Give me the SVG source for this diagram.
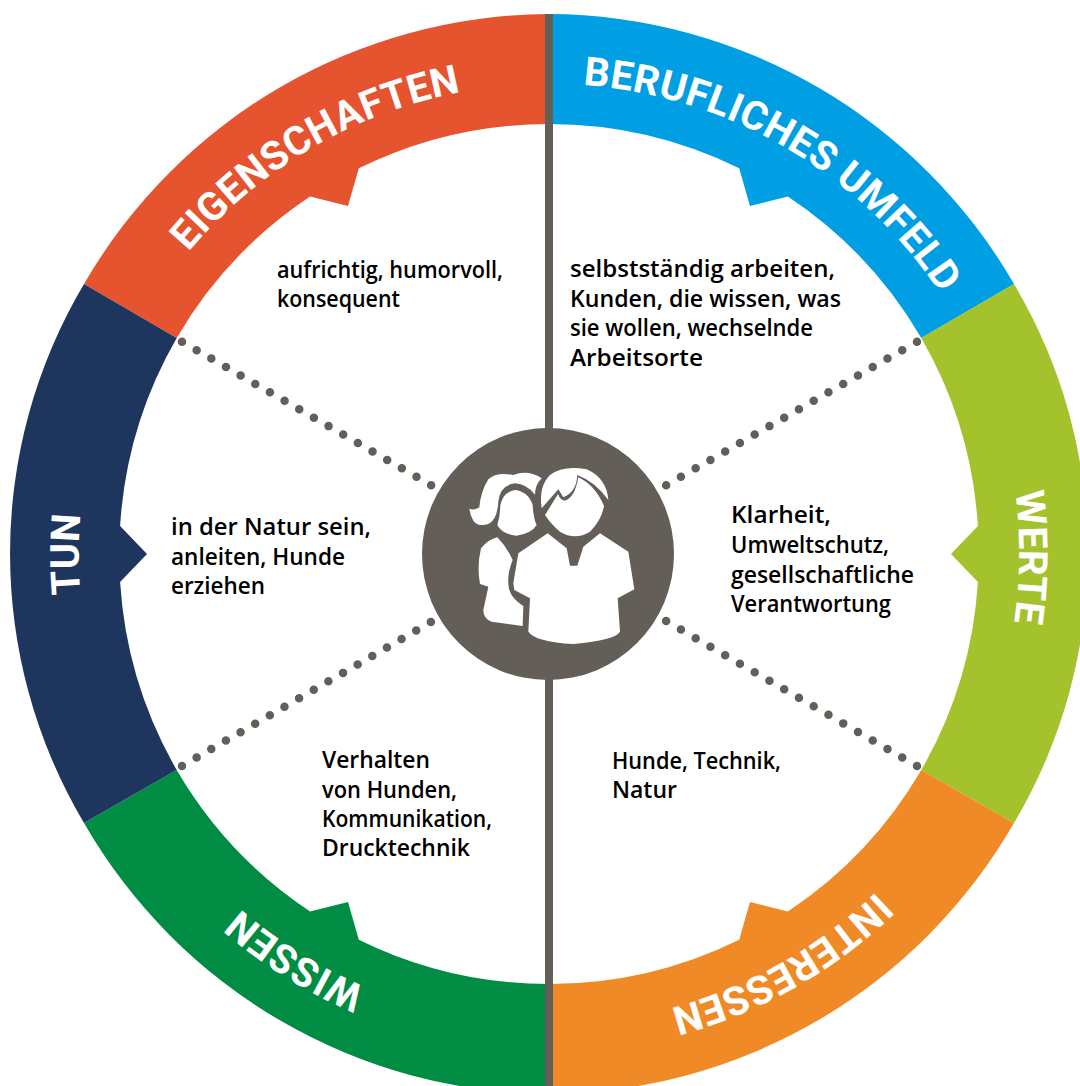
<svg xmlns="http://www.w3.org/2000/svg" width="1080" height="1086" viewBox="0 0 1080 1086">
<style>
.label{font-family:Roboto,"Liberation Sans",sans-serif;font-weight:700;font-size:40px;fill:#fff;letter-spacing:.5px}
.note{font-family:"Open Sans","Liberation Sans",sans-serif;font-weight:600;font-size:23px;fill:#000}
.dots{fill:none;stroke:#635f58;stroke-width:8.5;stroke-linecap:round;stroke-dasharray:0 1}
.bar{fill:none;stroke:#635f58;stroke-width:8}
.ico{fill:#fff}
</style>
<defs><path id="labelArc" d="M86.1,472.4 A470,470 0 0 1 1011.9,472.4"/></defs>
<rect width="1080" height="1086" fill="#fff"/>
<g id="eigenschaften">
<path fill="#e5532f" d="M84,284 A540,540 0 0 1 549,14 L549,124 A430,430 0 0 0 358.8,168.3 L348,205.9 L310.1,196.5 A430,430 0 0 0 176.7,338 Z"/>
<text class="label" transform="rotate(-30.4 549 554)"><textPath href="#labelArc" startOffset="50%" text-anchor="middle">EIGENSCHAFTEN</textPath></text>
<text class="note" x="277" y="278" textLength="226" lengthAdjust="spacingAndGlyphs">aufrichtig, humorvoll,</text>
<text class="note" x="277" y="307" textLength="123" lengthAdjust="spacingAndGlyphs">konsequent</text>
</g>
<g id="berufliches-umfeld">
<path fill="#009fe3" d="M549,14 A540,540 0 0 1 1014,284 L921.3,338 A430,430 0 0 0 787.9,196.5 L750,205.9 L739.2,168.3 A430,430 0 0 0 549,124 Z"/>
<text class="label" transform="rotate(30.3 549 554)"><textPath href="#labelArc" startOffset="50%" text-anchor="middle">BERUFLICHES UMFELD</textPath></text>
<text class="note" x="570" y="277" textLength="265" lengthAdjust="spacingAndGlyphs">selbstständig arbeiten,</text>
<text class="note" x="570" y="307" textLength="271" lengthAdjust="spacingAndGlyphs">Kunden, die wissen, was</text>
<text class="note" x="570" y="336" textLength="243" lengthAdjust="spacingAndGlyphs">sie wollen, wechselnde</text>
<text class="note" x="570" y="366" textLength="133" lengthAdjust="spacingAndGlyphs">Arbeitsorte</text>
</g>
<g id="werte">
<path fill="#a4c22c" d="M1014,284 A528,528 0 0 1 1014,823 L921.3,770 A430,430 0 0 0 977.9,582.1 L951,554 L977.9,525.9 A430,430 0 0 0 921.3,338 Z"/>
<text class="label" transform="rotate(90.4 549 554)"><textPath href="#labelArc" startOffset="50%" text-anchor="middle">WERTE</textPath></text>
<text class="note" x="731" y="523" textLength="100" lengthAdjust="spacingAndGlyphs">Klarheit,</text>
<text class="note" x="731" y="553" textLength="158" lengthAdjust="spacingAndGlyphs">Umweltschutz,</text>
<text class="note" x="731" y="583" textLength="183" lengthAdjust="spacingAndGlyphs">gesellschaftliche</text>
<text class="note" x="731" y="612" textLength="160" lengthAdjust="spacingAndGlyphs">Verantwortung</text>
</g>
<g id="interessen">
<path fill="#f08a27" d="M1014,823 A540,540 0 0 1 549,1094 L549,984 A430,430 0 0 0 739.2,939.7 L750,902.1 L787.9,911.5 A430,430 0 0 0 921.3,770 Z"/>
<text class="label" transform="rotate(150.5 549 554)"><textPath href="#labelArc" startOffset="50%" text-anchor="middle">INTERESSEN</textPath></text>
<text class="note" x="612" y="769" textLength="169" lengthAdjust="spacingAndGlyphs">Hunde, Technik,</text>
<text class="note" x="612" y="798" textLength="65" lengthAdjust="spacingAndGlyphs">Natur</text>
</g>
<g id="wissen">
<path fill="#008d43" d="M549,1094 A540,540 0 0 1 84,823 L176.7,770 A430,430 0 0 0 310.1,911.5 L348,902.1 L358.8,939.7 A430,430 0 0 0 549,984 Z"/>
<text class="label" transform="rotate(212 549 554)"><textPath href="#labelArc" startOffset="50%" text-anchor="middle">WISSEN</textPath></text>
<text class="note" x="322" y="768" textLength="108" lengthAdjust="spacingAndGlyphs">Verhalten</text>
<text class="note" x="322" y="798" textLength="135" lengthAdjust="spacingAndGlyphs">von Hunden,</text>
<text class="note" x="322" y="827" textLength="170" lengthAdjust="spacingAndGlyphs">Kommunikation,</text>
<text class="note" x="322" y="856" textLength="148" lengthAdjust="spacingAndGlyphs">Drucktechnik</text>
</g>
<g id="tun">
<path fill="#1e365d" d="M84,823 A528,528 0 0 1 84,284 L176.7,338 A430,430 0 0 0 120.1,525.9 L147,554 L120.1,582.1 A430,430 0 0 0 176.7,770 Z"/>
<text class="label" transform="rotate(270 549 554)"><textPath href="#labelArc" startOffset="50%" text-anchor="middle">TUN</textPath></text>
<text class="note" x="171" y="535" textLength="200" lengthAdjust="spacingAndGlyphs">in der Natur sein,</text>
<text class="note" x="171" y="565" textLength="174" lengthAdjust="spacingAndGlyphs">anleiten, Hunde</text>
<text class="note" x="171" y="594" textLength="94" lengthAdjust="spacingAndGlyphs">erziehen</text>
</g>
<g id="connectors">
<path class="bar" d="M549,14 V1086"/>
<path class="dots" pathLength="17.01" d="M182,341.7 L431.3,485.3"/>
<path class="dots" pathLength="17.01" d="M917,341.7 L666,485.3"/>
<path class="dots" pathLength="17.01" d="M182,766 L431,622"/>
<path class="dots" pathLength="17.01" d="M917,766 L666,621"/>
</g>
<g id="center">
<circle cx="548" cy="554" r="126" fill="#635f58"/>
<g transform="translate(420 420) scale(.33333)">
<path class="ico" d="M148,266 Q165,272 178,262 Q182,215 205,178 Q230,155 280,165 Q325,148 365,175 Q345,195 345,224 Q320,192 285,190 Q240,195 235,245 Q232,300 205,312 Q175,322 160,302 Q150,285 148,266 Z"/>
<path class="ico" d="M232,315 Q240,290 241,255 Q250,215 285,210 Q325,215 338,255 Q340,295 350,315 Q335,340 290,347 Q245,342 232,315 Z"/>
<path class="ico" d="M232,352 Q260,380 278,420 Q262,460 265,490 Q265,530 310,558 L308,618 L215,605 Q190,597 190,570 L205,500 L180,492 Q170,440 183,385 Q205,358 232,352 Z"/>
<path class="ico" d="M365,265 Q355,200 390,165 Q430,135 500,148 Q560,175 565,240 Q525,185 472,165 Q470,215 430,232 L415,208 Z"/>
<path class="ico" d="M375,285 L414,222 Q420,240 435,242 Q465,232 475,172 Q525,195 552,258 Q545,300 510,335 Q465,362 420,335 Q395,315 375,285 Z"/>
<path class="ico" d="M383,340 L440,385 L450,437 L472,437 L490,380 L540,340 L625,395 L643,508 L593,535 L600,635 Q585,660 460,672 Q345,665 325,635 L330,535 L283,510 L280,490 L295,400 Z"/>
</g>
</g>
</svg>
